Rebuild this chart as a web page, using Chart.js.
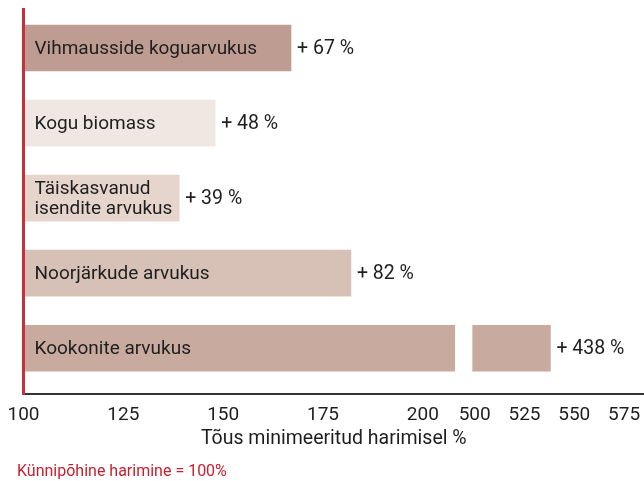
<!DOCTYPE html>
<html>
<head>
<meta charset="utf-8">
<script src="https://cdn.jsdelivr.net/npm/chart.js@4/dist/chart.umd.min.js"></script>
<style>
  html, body { margin: 0; padding: 0; background: #ffffff; overflow: hidden; }
  #wrap { width: 644px; height: 481px; position: relative; }
  canvas { display: block; }
</style>
</head>
<body>
<div id="wrap"><canvas id="c"></canvas></div>
<script>
// ---- data ----
const categories = [
  ["Vihmausside koguarvukus"],
  ["Kogu biomass"],
  ["Täiskasvanud", "isendite arvukus"],
  ["Noorjärkude arvukus"],
  ["Kookonite arvukus"]
];
const increases = [67, 48, 39, 82, 438];          // % increase vs. ploughing
const baseline = 100;                              // Künnipõhine harimine = 100%
const leftTicks = [100, 125, 150, 175, 200];
const rightTicks = [500, 525, 550, 575];
const leftRange = [100, 211];                      // lower axis segment
const rightRange = [496, 585];                     // upper axis segment
const breakLow = 208;                              // where a broken bar is cut on the lower segment
const breakHigh = 499;                             // where it resumes on the upper segment
const barColors = ["#bf9c91", "#efe7e2", "#e6d5cd", "#d7c1b7", "#c8aa9f"];
const valueLabels = increases.map(v => "+ " + v + " %");

const FONT = "Roboto";
const TEXT = "#1e1e1e";

// lower-segment bars
const lowData = increases.map((inc, i) => ({ y: i, x: [baseline, Math.min(baseline + inc, breakLow)] }));
// upper-segment bars (only for values past the break)
const highData = [];
increases.forEach((inc, i) => {
  if (baseline + inc > breakLow) highData.push({ y: i, x: [breakHigh, baseline + inc] });
});

const barLabelPlugin = {
  id: 'barLabels',
  afterDatasetsDraw(chart) {
    const ctx = chart.ctx;
    const lowMeta = chart.getDatasetMeta(0);
    const highMeta = chart.getDatasetMeta(1);
    ctx.save();
    ctx.fillStyle = TEXT;
    ctx.textBaseline = 'middle';
    ctx.textAlign = 'left';
    ctx.font = "19px " + FONT;
    lowMeta.data.forEach((bar, i) => {
      const lines = categories[i];
      const lh = 20;
      const start = bar.y - (lines.length - 1) * lh / 2;
      lines.forEach((ln, k) => ctx.fillText(ln, bar.base + 11, start + k * lh + 1));
    });
    ctx.font = "19.5px " + FONT;
    increases.forEach((inc, i) => {
      let el = lowMeta.data[i];
      highMeta.data.forEach((h, j) => { if (highData[j].y === i) el = h; });
      ctx.fillText(valueLabels[i], el.x + 6, el.y + 1);
    });
    ctx.restore();
  }
};

function fitX(s) { s.height = 30.4; s.paddingLeft = 0; s.paddingRight = 0; }

new Chart(document.getElementById('c'), {
  type: 'bar',
  data: {
    datasets: [
      {
        data: lowData,
        xAxisID: 'xL', yAxisID: 'y',
        grouped: false,
        backgroundColor: ctx => barColors[ctx.raw ? ctx.raw.y : 0],
        barThickness: 46,
        borderWidth: 0
      },
      {
        data: highData,
        xAxisID: 'xR', yAxisID: 'y',
        grouped: false,
        backgroundColor: ctx => barColors[ctx.raw ? ctx.raw.y : 0],
        barThickness: 46,
        borderWidth: 0
      }
    ]
  },
  options: {
    indexAxis: 'y',
    responsive: true,
    maintainAspectRatio: false,
    animation: false,
    layout: { padding: { left: 17, right: 0, top: 9, bottom: 0.2 } },
    plugins: {
      legend: { display: false },
      tooltip: { enabled: false },
      title: {
        display: true,
        text: 'Tõus minimeeritud harimisel %',
        position: 'bottom',
        fullSize: false,
        weight: 1000,
        color: TEXT,
        font: { family: FONT, size: 19.5, weight: 'normal' },
        padding: { top: 2.9, bottom: 4 }
      },
      subtitle: {
        display: true,
        text: 'Künnipõhine harimine = 100%',
        position: 'bottom',
        align: 'start',
        fullSize: true,
        weight: 2000,
        color: '#c8202e',
        font: { family: FONT, size: 16, weight: 'normal', lineHeight: 1.1 },
        padding: { top: 8.5, bottom: 0 }
      }
    },
    scales: {
      y: {
        type: 'linear',
        offset: false,
        reverse: true,
        min: -0.52,
        max: 4.61,
        position: 'left',
        grid: { display: false, drawTicks: false },
        ticks: { display: false },
        border: { display: true, color: '#c8313c', width: 3, z: 1 },
        afterFit: s => { s.width = 6.5; }
      },
      xL: {
        type: 'linear',
        axis: 'x',
        position: 'bottom',
        stack: 'xs',
        stackWeight: 2.5,
        min: leftRange[0],
        max: leftRange[1],
        grid: { display: false, drawTicks: false },
        border: { display: true, color: '#333333', width: 2 },
        afterBuildTicks: s => { s.ticks = leftTicks.map(v => ({ value: v })); },
        afterFit: fitX,
        ticks: { color: TEXT, padding: 9.6, maxRotation: 0, autoSkip: false, font: { family: FONT, size: 19 } }
      },
      xR: {
        type: 'linear',
        axis: 'x',
        position: 'bottom',
        stack: 'xs',
        stackWeight: 1,
        min: rightRange[0],
        max: rightRange[1],
        grid: { display: false, drawTicks: false },
        border: { display: true, color: '#333333', width: 2 },
        afterBuildTicks: s => { s.ticks = rightTicks.map(v => ({ value: v })); },
        afterFit: fitX,
        ticks: { color: TEXT, padding: 9.6, maxRotation: 0, autoSkip: false, font: { family: FONT, size: 19 } }
      }
    }
  },
  plugins: [barLabelPlugin]
});
</script>
</body>
</html>
